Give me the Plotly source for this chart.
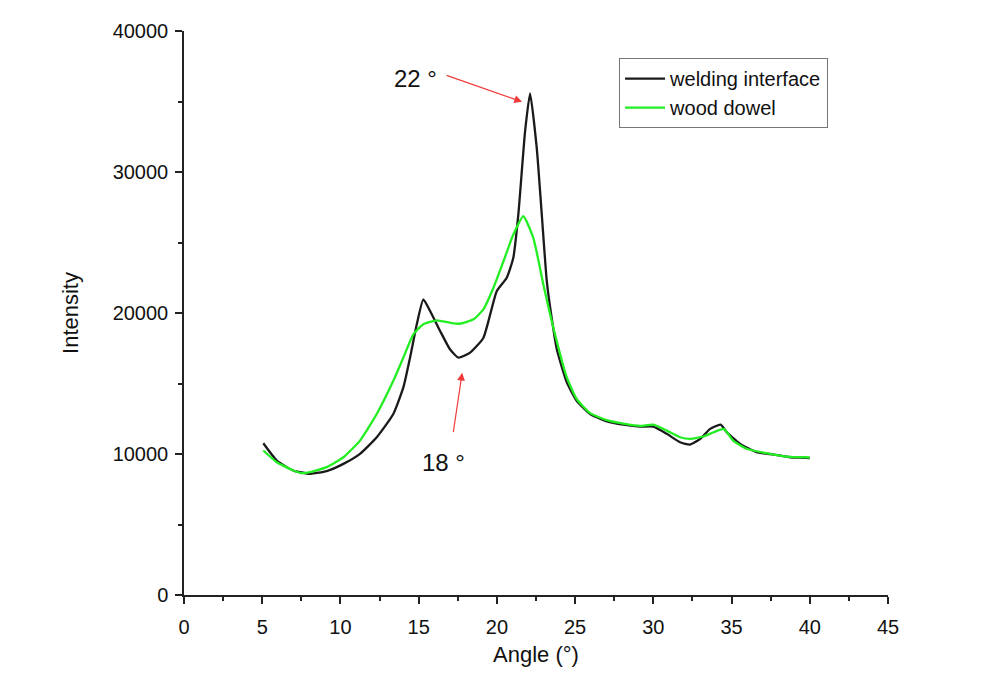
import plotly.graph_objects as go

# Welding interface (black) - angle (deg), intensity
weld_angle = [5.07, 5.93, 6.97, 8.06, 9.12, 10.19, 11.25, 12.32, 13.38, 14.02, 14.45, 14.88,
              15.30, 15.73, 16.37, 17.0, 17.54, 18.29, 19.14, 19.99, 20.63, 21.05, 21.37, 21.8,
              22.12, 22.55, 22.87, 23.19, 23.5, 23.83, 24.47, 25.1, 25.96, 27.03, 28.09, 29.16,
              30.0, 30.86, 31.71, 32.35, 33.0, 33.63, 34.3, 34.7, 35.55, 36.6, 37.7, 38.75, 39.8, 40.0]
weld_int = [10760, 9540, 8830, 8600, 8790, 9300, 10010, 11190, 12840, 14720, 16840, 19200,
            20970, 20140, 18730, 17430, 16840, 17190, 18250, 21550, 22500, 23920, 26970, 32860,
            35570, 31680, 26970, 22260, 19670, 17430, 15080, 13780, 12840, 12320, 12080, 11940,
            11940, 11430, 10830, 10670, 11070, 11780, 12080, 11540, 10720, 10130, 9960, 9770, 9730, 9700]

# Wood dowel (green)
dowel_angle = [5.07, 5.93, 6.99, 7.5, 8.06, 9.12, 10.19, 11.25, 12.32, 13.38, 14.02, 14.66,
               15.3, 16.16, 17.0, 17.65, 18.5, 19.14, 19.78, 20.42, 21.05, 21.69, 22.33, 22.97,
               23.61, 24.47, 25.1, 25.96, 27.03, 28.09, 29.16, 30.0, 30.86, 31.71, 32.35, 33.2,
               33.85, 34.5, 35.1, 35.97, 37.7, 38.75, 39.8, 40.0]
dowel_int = [10250, 9420, 8830, 8650, 8710, 9070, 9770, 10950, 12840, 15190, 16840, 18490,
             19200, 19480, 19310, 19240, 19550, 20260, 21790, 23670, 25560, 26860, 25320, 22030,
             18960, 15430, 13900, 12900, 12400, 12150, 11990, 12080, 11660, 11190, 11070, 11240,
             11540, 11780, 10950, 10370, 9960, 9800, 9770, 9750]

series_names = ["welding interface", "wood dowel"]
x_ticks = [0, 5, 10, 15, 20, 25, 30, 35, 40, 45]
y_ticks = [0, 10000, 20000, 30000, 40000]
y_tick_labels = ["0", "10000", "20000", "30000", "40000"]

FONT = "Liberation Sans, Arial, sans-serif"

fig = go.Figure()
fig.add_trace(go.Scatter(x=weld_angle, y=weld_int, mode="lines", name=series_names[0],
                         line=dict(color="#1a1a1a", width=2.3, shape="spline", smoothing=0.5)))
fig.add_trace(go.Scatter(x=dowel_angle, y=dowel_int, mode="lines", name=series_names[1],
                         line=dict(color="#22ee22", width=2.3, shape="spline", smoothing=0.5)))

# Arrows
fig.add_annotation(x=21.61, y=34980, ax=16.69, ay=36890, axref="x", ayref="y", xref="x", yref="y",
                   text="", showarrow=True, arrowhead=2, arrowsize=1.3, arrowwidth=1.2,
                   arrowcolor="#f03a3a")
fig.add_annotation(x=17.78, y=15760, ax=17.2, ay=11450, axref="x", ayref="y", xref="x", yref="y",
                   text="", showarrow=True, arrowhead=2, arrowsize=1.3, arrowwidth=1.2,
                   arrowcolor="#f03a3a")
fig.add_annotation(x=14.77, y=36600, xref="x", yref="y", text="22 °", showarrow=False,
                   font=dict(family=FONT, size=24, color="#111"))
fig.add_annotation(x=16.56, y=9400, xref="x", yref="y", text="18 °", showarrow=False,
                   font=dict(family=FONT, size=24, color="#111"))

fig.update_layout(
    width=1000, height=677,
    margin=dict(l=176, r=120, t=21, b=90),
    paper_bgcolor="white", plot_bgcolor="white",
    font=dict(family=FONT, size=20, color="#111"),
    showlegend=True,
    legend=dict(x=0.618, y=0.952, xanchor="left", yanchor="top",
                bordercolor="#777", borderwidth=1, bgcolor="white",
                font=dict(family=FONT, size=20, color="#111"),
                tracegroupgap=0, itemwidth=40),
    xaxis=dict(range=[0, 45], tickvals=x_ticks, showline=True, linecolor="#222", linewidth=1.5,
               ticks="outside", ticklen=7, tickwidth=1.5, tickcolor="#222", showgrid=False,
               zeroline=False, ticklabelstandoff=6,
               minor=dict(dtick=2.5, ticks="outside", ticklen=4, tickcolor="#222", showgrid=False),
               title=dict(text="Angle (°)", font=dict(size=22), standoff=10)),
    yaxis=dict(range=[0, 40000], tickvals=y_ticks, ticktext=y_tick_labels, showline=True,
               linecolor="#222", linewidth=1.5,
               ticks="outside", ticklen=7, tickwidth=1.5, tickcolor="#222", showgrid=False,
               zeroline=False, ticklabelstandoff=3,
               minor=dict(dtick=5000, ticks="outside", ticklen=4, tickcolor="#222", showgrid=False),
               title=dict(text="Intensity", font=dict(size=22), standoff=28)),
)

fig.write_html("out.html")
